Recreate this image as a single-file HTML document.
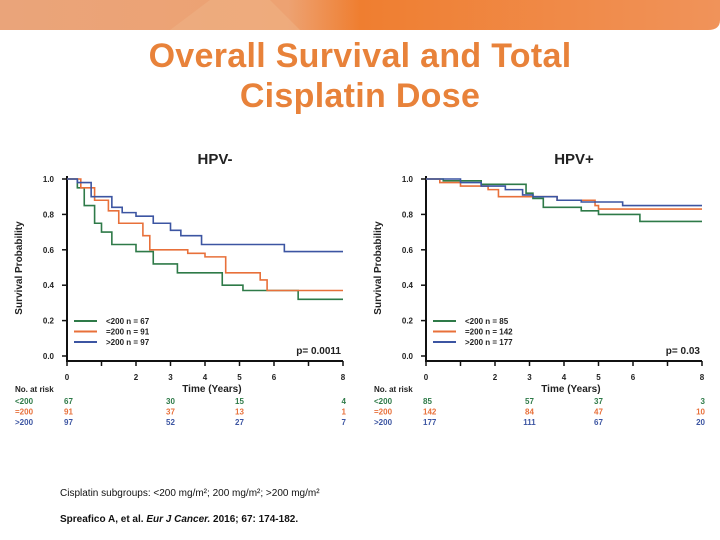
<!DOCTYPE html>
<html><head><meta charset="utf-8"><style>
body{margin:0;width:720px;height:540px;background:#fff;overflow:hidden;font-family:"Liberation Sans",sans-serif;position:relative}
.title{position:absolute;left:0;width:720px;top:36px;text-align:center;color:#E8823A;font-size:34px;line-height:40px;font-weight:bold;letter-spacing:0.3px}
.foot{position:absolute;left:60px;font-size:10px;color:#111}
</style></head><body>
<svg width="720" height="32" style="position:absolute;left:0;top:0">
<defs><linearGradient id="g" x1="0" x2="1"><stop offset="0" stop-color="#EAA47A"/><stop offset="0.4" stop-color="#EDA272"/><stop offset="0.5" stop-color="#EF7E30"/><stop offset="1" stop-color="#F0935A"/></linearGradient></defs>
<path d="M0 0H720V20Q720 30 708 30H0Z" fill="url(#g)"/>
<path d="M170 30L210 0H270L300 30Z" fill="#EFB084" opacity="0.6"/>
</svg>
<div class="title">Overall Survival and Total<br>Cisplatin Dose</div>
<svg id="c" width="720" height="440" style="position:absolute;left:0;top:0"></svg>
<div class="foot" style="top:488px">Cisplatin subgroups: &lt;200 mg/m²; 200 mg/m²; &gt;200 mg/m²</div>
<div class="foot" style="top:514px;font-weight:bold">Spreafico A, et al. <i>Eur J Cancer.</i> 2016; 67: 174-182.</div>
<script>
const colors=["#2E7A48","#E8703A","#3C55A2"];
const groupLabels=["<200","=200",">200"];
const negN=[67,91,97];
const posN=[85,142,177];
const riskTimes=[0,3,5,8];
const negRisk=[[67,30,15,4],[91,37,13,1],[97,52,27,7]];
const posRisk=[[85,57,37,3],[142,84,47,10],[177,111,67,20]];
const negT=[[0,0.3,0.5,0.8,1,1.3,2,2.5,3.2,4.5,5.1,6.7],[0,0.4,0.8,1.2,1.5,2.2,2.4,3.5,4.0,4.6,5.6,5.8],[0,0.3,0.7,1.3,1.6,2.0,2.5,3.0,3.3,3.9,6.3]];
const negS=[[1,0.95,0.85,0.75,0.70,0.63,0.59,0.52,0.47,0.40,0.37,0.32],[1,0.95,0.88,0.82,0.75,0.68,0.60,0.58,0.56,0.47,0.43,0.37],[1,0.98,0.90,0.84,0.81,0.79,0.75,0.71,0.68,0.63,0.59]];
const posT=[[0,0.5,1.6,2.9,3.1,3.4,4.5,5.0,6.2],[0,0.4,1.0,1.8,2.1,3.8,4.9,5.0],[0,1.0,1.6,2.3,2.8,3.1,3.8,4.5,5.7]];
const posS=[[1,0.99,0.97,0.92,0.89,0.84,0.82,0.80,0.76],[1,0.98,0.96,0.94,0.90,0.88,0.85,0.83],[1,0.98,0.96,0.94,0.91,0.90,0.88,0.87,0.85]];
const yTicks=[0,0.2,0.4,0.6,0.8,1.0];
const xTicks=[0,1,2,3,4,5,6,7,8];
const xLabels=["0","","2","3","4","5","6","","8"];
const svg=document.getElementById('c');
const NS="http://www.w3.org/2000/svg";
function mk(tag,attrs,txt){const e=document.createElementNS(NS,tag);for(const k in attrs)e.setAttribute(k,attrs[k]);if(txt!==undefined)e.textContent=txt;svg.appendChild(e);return e;}
function panel(x0,x1,title,T,S,N,risk,p,key){
  const xs=t=>x0+(x1-x0)*t/8, ys=v=>356-177*v;
  let e=mk('text',{x:(x0+x1)/2+10,y:164,'font-size':15,'font-weight':'bold','text-anchor':'middle',fill:'#222'},title);
  
  
  e=mk('path',{d:`M${x0} 176V361H${x1}`,stroke:'#111','stroke-width':2,fill:'none'});
  
  
  yTicks.forEach(v=>{mk('line',{x1:x0-5,x2:x0,y1:ys(v),y2:ys(v),stroke:'#111','stroke-width':1.5});
    const t=mk('text',{x:x0-13,y:ys(v)+3,'font-size':8,'font-weight':'bold','text-anchor':'end',fill:'#222'},v.toFixed(1));
    
    });
  xTicks.forEach((v,i)=>{mk('line',{x1:xs(v),x2:xs(v),y1:361,y2:366,stroke:'#111','stroke-width':1.5});
    const t=mk('text',{x:xs(v),y:380,'font-size':8,'font-weight':'bold','text-anchor':'middle',fill:'#222'},xLabels[i]);
    
    });
  e=mk('text',{x:x0-45,y:268,'font-size':10,'font-weight':'bold','text-anchor':'middle',fill:'#222',transform:`rotate(-90 ${x0-45} 268)`},'Survival Probability');
  
  
  e=mk('text',{x:xs(4.2),y:392,'font-size':10,'font-weight':'bold','text-anchor':'middle',fill:'#222'},'Time (Years)');
  
  
  e=mk('text',{x:x0-52,y:392,'font-size':8,'font-weight':'bold',fill:'#222'},'No. at risk');
  
  
  e=mk('text',{x:xs(8)-2,y:354,'font-size':10,'font-weight':'bold','text-anchor':'end',fill:'#222'},p);
  
  
  T.forEach((ts,g)=>{
    let d=`M${xs(0)} ${ys(S[g][0])}`;
    for(let i=1;i<ts.length;i++)d+=`H${xs(ts[i])}V${ys(S[g][i])}`;
    d+=`H${xs(8)}`;
    const c=mk('path',{d,stroke:colors[g],'stroke-width':1.6,fill:'none'});
    
    
    const ly=321+g*10.5;
    mk('line',{x1:x0+7,x2:x0+30,y1:ly,y2:ly,stroke:colors[g],'stroke-width':2});
    const l=mk('text',{x:x0+39,y:ly+3,'font-size':8,'font-weight':'bold',fill:'#222'},`${groupLabels[g]} n = ${N[g]}`);
    
    
    const ry=404+g*10.5;
    const rl=mk('text',{x:x0-52,y:ry,'font-size':8,'font-weight':'bold',fill:colors[g]},groupLabels[g]);
    
    
    riskTimes.forEach((t,j)=>{
      const anchor=j==0?'start':(j==3?'end':'middle');
      const rx=j==0?xs(0)-3:(j==3?xs(8)+3:xs(t));
      const r=mk('text',{x:rx,y:ry,'font-size':8,'font-weight':'bold','text-anchor':anchor,fill:colors[g]},risk[g][j]);
      
      
    });
  });
}
panel(67,343,'HPV-',negT,negS,negN,negRisk,'p= 0.0011','hpv-neg');
panel(426,702,'HPV+',posT,posS,posN,posRisk,'p= 0.03','hpv-pos');
</script>
</body></html>
